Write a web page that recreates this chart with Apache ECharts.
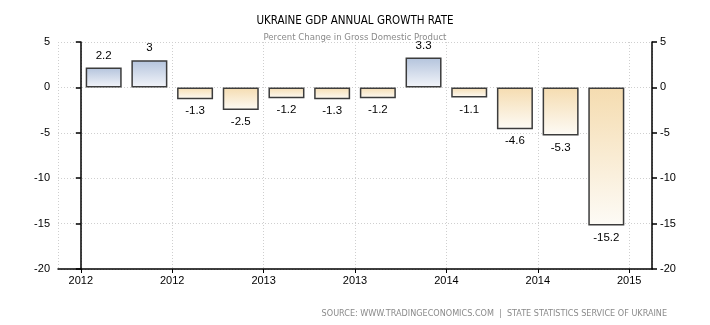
<!DOCTYPE html>
<html>
<head>
<meta charset="utf-8">
<script src="https://cdn.jsdelivr.net/npm/echarts@6/dist/echarts.min.js"></script>
<style>
  html, body { margin: 0; padding: 0; background: #fff; }
  #chart { width: 710px; height: 325px; }
</style>
</head>
<body>
<div id="chart"></div>
<script>
// Quarterly year-on-year GDP growth, Ukraine
const quarters = ['2012 Q1', '2012 Q2', '2012 Q3', '2012 Q4',
                  '2013 Q1', '2013 Q2', '2013 Q3', '2013 Q4',
                  '2014 Q1', '2014 Q2', '2014 Q3', '2014 Q4'];
const growth = [2.2, 3.0, -1.3, -2.5, -1.2, -1.3, -1.2, 3.3, -1.1, -4.6, -5.3, -15.2];
// Half-year tick labels along the bottom axis
const yearTicks = ['2012', '2012', '2013', '2013', '2014', '2014', '2015'];
const valueTicks = [-20, -15, -10, -5, 0, 5];

const FONT = '"Liberation Sans", Arial, sans-serif';
const HEAD_FONT = '"DejaVu Sans Condensed", "DejaVu Sans", Tahoma, sans-serif';

// Each quarter sits half a slot after a tick; ticks fall on even positions.
const points = growth.map((v, i) => ({
  name: quarters[i],
  value: [i + 0.5, v],
  itemStyle: {
    color: new echarts.graphic.LinearGradient(0, 0, 0, 1, v >= 0
      ? [{ offset: 0, color: '#b3c3dc' }, { offset: 1, color: '#f3f5fa' }]
      : [{ offset: 0, color: '#f5dcb0' }, { offset: 1, color: '#fdfbf6' }])
  },
  label: { position: v >= 0 ? 'top' : 'bottom' }
}));

const yAxisBase = {
  type: 'value',
  min: valueTicks[0],
  max: valueTicks[valueTicks.length - 1],
  interval: 5,
  axisLine: { show: true, lineStyle: { color: '#000', width: 1.5 } },
  axisTick: { show: true, length: 5, lineStyle: { color: '#000', width: 1.5 } },
  axisLabel: { color: '#000', fontFamily: FONT, fontSize: 11, margin: 8 },
};

const chart = echarts.init(document.getElementById('chart'), null, { renderer: 'canvas' });
chart.setOption({
  animation: false,
  backgroundColor: '#fff',
  title: [
    {
      text: 'UKRAINE GDP ANNUAL GROWTH RATE',
      left: 'center', top: 10,
      textStyle: { fontFamily: HEAD_FONT, fontSize: 11.5, fontWeight: 'normal', color: '#000' }
    },
    {
      text: 'Percent Change in Gross Domestic Product',
      left: 'center', top: 28,
      textStyle: { fontFamily: HEAD_FONT, fontSize: 9.5, fontWeight: 'normal', color: '#8a8a8a' }
    },
    {
      text: 'SOURCE: WWW.TRADINGECONOMICS.COM  |  STATE STATISTICS SERVICE OF UKRAINE',
      right: 38, top: 304,
      textStyle: { fontFamily: HEAD_FONT, fontSize: 9, fontWeight: 'normal', color: '#8a8a8a' }
    }
  ],
  grid: { left: 58, right: 58, top: 42, bottom: 56, containLabel: false },
  xAxis: {
    type: 'value',
    min: -0.5,
    max: 12.5,
    splitNumber: 6,
    axisLine: { show: true, onZero: false, lineStyle: { color: '#000', width: 1.5 } },
    axisTick: { show: true, length: 4, lineStyle: { color: '#000', width: 1 } },
    axisLabel: {
      color: '#000', fontFamily: FONT, fontSize: 11, margin: 6,
      showMinLabel: false, showMaxLabel: false,
      formatter: v => {
        const k = Math.round(v / 2);
        return Math.abs(v - k * 2) < 1e-6 ? (yearTicks[k] || '') : '';
      }
    },
    splitLine: { show: true, lineStyle: { color: '#cfcfcf', type: [1, 2], width: 1 } }
  },
  yAxis: [
    Object.assign({}, yAxisBase, {
      position: 'left',
      splitLine: { show: true, lineStyle: { color: '#cfcfcf', type: [1, 2], width: 1 } }
    }),
    Object.assign({}, yAxisBase, {
      position: 'right',
      splitLine: { show: false }
    })
  ],
  series: [{
    type: 'bar',
    data: points,
    barWidth: 36,
    itemStyle: { borderColor: '#3c3c3c', borderWidth: 1.5 },
    label: {
      show: true, distance: 6,
      color: '#000', fontFamily: FONT, fontSize: 11.5,
      formatter: p => String(p.value[1])
    }
  }]
});
</script>
</body>
</html>
